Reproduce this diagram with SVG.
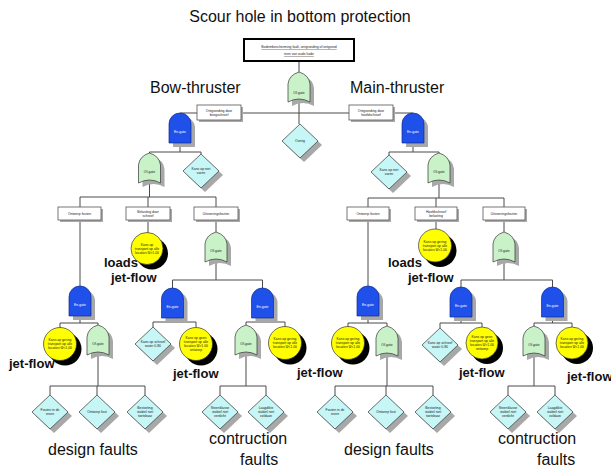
<svg xmlns="http://www.w3.org/2000/svg" xmlns:xlink="http://www.w3.org/1999/xlink" width="611" height="470" viewBox="0 0 611 470">
<style>
.ln{stroke:#4a4a4a;stroke-width:1;fill:none}
.or{fill:#c9f2c9;stroke:#333;stroke-width:0.7}
.and{fill:#1f50ea;stroke:#0d2c8c;stroke-width:0.7}
.dia{fill:#c6f6f6;stroke:#333;stroke-width:0.7}
.bas{fill:#ffff00;stroke:#333;stroke-width:0.7}
.sh{fill:#a8a8a8}
.shb{fill:#000}
.box{fill:#fff;stroke:#555;stroke-width:0.8}
.tiny{font-family:"Liberation Sans",Arial,sans-serif;font-size:3.4px;text-anchor:middle;fill:#222}
.tw{fill:#fff}
.big{font-family:"Liberation Sans",Arial,sans-serif;font-size:16px;fill:#111}
.lbl{font-family:"Liberation Sans",Arial,sans-serif;font-size:13px;font-weight:bold;fill:#111}
</style>
<defs>
<path id="orp" d="M-11,30 L-11,12 Q-10,3 0,0 Q10,3 11,12 L11,30 Q0,24 -11,30 Z"/>
<path id="andp" d="M-11,30 L-11,11 A11,11 0 0 1 11,11 L11,30 Z"/>
<path id="diap" d="M0,-17 L18,0 L0,17 L-18,0 Z"/>
</defs>
<rect width="611" height="470" fill="#fff"/>
<text class="big" x="300" y="22" text-anchor="middle">Scour hole in bottom protection</text>
<text class="big" x="150" y="93">Bow-thruster</text>
<text class="big" x="350" y="93">Main-thruster</text>

<g id="connectors" class="ln">
<path d="M299,61V72 M299,96V124 M180,113H413"/>
<path d="M180,141V152 M149.5,152H201 M149.5,152V154 M201,152V154"/>
<path d="M149.5,180V197 M80,197H216 M80,197V207 M148,197V207 M216,197V207"/>
<path d="M80,220V286 M148,220V233 M216,220V232"/>
<path d="M216,258V280 M172.5,280H262.5 M172.5,280V288 M262.5,280V288"/>
<path d="M80,314V323 M60,323H98 M60,323V328 M98,323V325"/>
<path d="M98,351V386 M50,386H145 M50,386V395 M97,386V395 M145,386V395"/>
<path d="M172.5,316V322 M153,322H196 M153,322V327 M196,322V327"/>
<path d="M262.5,316V322 M246,322H285 M246,322V325 M285,322V327"/>
<path d="M246,351V386 M220,386H266 M220,386V395 M266,386V395"/>
<path d="M413,141V152 M389,152H439 M389,152V155 M439,152V153"/>
<path d="M439,179V198 M368,198H504 M368,198V207 M436,198V207 M504,198V207"/>
<path d="M368,220V286 M436,220V229 M504,220V232"/>
<path d="M504,258V280 M461,280H552.5 M461,280V287 M552.5,280V287"/>
<path d="M368,314V323 M348,323H387 M348,323V327 M387,323V326"/>
<path d="M387,352V386 M335,386H433 M335,386V395 M386,386V395 M433,386V395"/>
<path d="M461,315V323 M440,323H482 M440,323V328 M482,323V327"/>
<path d="M552.5,315V323 M534,323H572 M534,323V326 M572,323V327"/>
<path d="M534,352V386 M508,386H555 M508,386V395 M555,386V395"/>
</g>

<g id="top-event">
<rect x="244" y="39" width="110" height="22" fill="#fff" stroke="#000" stroke-width="2"/>
<text class="tiny" x="299" y="48" text-decoration="underline">Bodembescherming faalt, ontgronding of ontgrond</text>
<text class="tiny" x="299" y="55" text-decoration="underline">teen van oude kade</text>
</g>
<g id="or-top" transform="translate(299,72)"><use xlink:href="#orp" class="sh" x="4" y="4"/><use xlink:href="#orp" class="or"/><text class="tiny" y="22">Of-gate</text></g>
<g id="overig" transform="translate(300,141)"><use xlink:href="#diap" class="sh" x="4" y="4"/><use xlink:href="#diap" class="dia"/><text class="tiny" y="1">Overig</text></g>
<g id="lbl-bow"><rect x="199" y="107" width="44" height="15" class="sh"/><rect x="197" y="105" width="44" height="15" class="box"/><text class="tiny" x="219" y="111.5">Ontgronding door</text><text class="tiny" x="219" y="116">boegschroef</text></g>
<g id="lbl-main"><rect x="351" y="107" width="44" height="15" class="sh"/><rect x="349" y="105" width="44" height="15" class="box"/><text class="tiny" x="371" y="111.5">Ontgronding door</text><text class="tiny" x="371" y="116">hoofdschroef</text></g>

<!-- Bow-thruster subtree -->
<g id="and-bow" transform="translate(180,113)"><use xlink:href="#andp" class="sh" x="4" y="4"/><use xlink:href="#andp" class="and"/><text class="tiny tw" y="20">En-gate</text></g>
<g id="or-bow" transform="translate(149.5,153)"><use xlink:href="#orp" class="sh" x="4" y="4"/><use xlink:href="#orp" class="or"/><text class="tiny" y="20">Of-gate</text></g>
<g id="d-bow" transform="translate(201,171)"><use xlink:href="#diap" class="sh" x="4" y="4"/><use xlink:href="#diap" class="dia"/><text class="tiny" y="-1">Kans op niet</text><text class="tiny" y="3">varen</text></g>
<g id="r-bow1"><rect x="60" y="209" width="43" height="13" class="sh"/><rect x="58" y="207" width="43" height="13" class="box"/><text class="tiny" x="79.5" y="214.5">Ontwerp fouten</text></g>
<g id="r-bow2"><rect x="128" y="209" width="44" height="13" class="sh"/><rect x="126" y="207" width="44" height="13" class="box"/><text class="tiny" x="148" y="212.5">Belasting door</text><text class="tiny" x="148" y="217">schroef</text></g>
<g id="r-bow3"><rect x="196" y="209" width="44" height="13" class="sh"/><rect x="194" y="207" width="44" height="13" class="box"/><text class="tiny" x="216" y="214.5">Uitvoeringsfouten</text></g>
<g id="y-bow" transform="translate(147,248.5)"><circle cx="5" cy="5" r="16" class="shb"/><circle r="16" class="bas"/><text class="tiny" y="-3">Kans op</text><text class="tiny" y="1">transport op alle</text><text class="tiny" y="5">locaties Ψ&gt;1.00</text></g>
<g id="or-bow3" transform="translate(216,232)"><use xlink:href="#orp" class="sh" x="4" y="4"/><use xlink:href="#orp" class="or"/><text class="tiny" y="20">Of-gate</text></g>
<g id="and-bow1" transform="translate(80,286)"><use xlink:href="#andp" class="sh" x="4" y="4"/><use xlink:href="#andp" class="and"/><text class="tiny tw" y="20">En-gate</text></g>
<g id="y-bow1" transform="translate(60,344)"><circle cx="5" cy="5" r="16.5" class="shb"/><circle r="16.5" class="bas"/><text class="tiny" y="-3">Kans op gering</text><text class="tiny" y="1">transport op alle</text><text class="tiny" y="5">locaties Ψ&lt;1.00</text></g>
<g id="or-bow1" transform="translate(98,325)"><use xlink:href="#orp" class="sh" x="4" y="4"/><use xlink:href="#orp" class="or"/><text class="tiny" y="20">Of-gate</text></g>
<g id="d-bow1a" transform="translate(50,412)"><use xlink:href="#diap" class="sh" x="4" y="4"/><use xlink:href="#diap" class="dia"/><text class="tiny" y="-1">Fouten in de</text><text class="tiny" y="3">eisen</text></g>
<g id="d-bow1b" transform="translate(97,412)"><use xlink:href="#diap" class="sh" x="4" y="4"/><use xlink:href="#diap" class="dia"/><text class="tiny" y="1">Ontwerp fout</text></g>
<g id="d-bow1c" transform="translate(145,412)"><use xlink:href="#diap" class="sh" x="4" y="4"/><use xlink:href="#diap" class="dia"/><text class="tiny" y="-3">Bestorting</text><text class="tiny" y="1">stabiel niet</text><text class="tiny" y="5">toetsbaar</text></g>
<g id="and-bow2" transform="translate(172.5,288)"><use xlink:href="#andp" class="sh" x="4" y="4"/><use xlink:href="#andp" class="and"/><text class="tiny tw" y="20">En-gate</text></g>
<g id="and-bow3" transform="translate(262.5,288)"><use xlink:href="#andp" class="sh" x="4" y="4"/><use xlink:href="#andp" class="and"/><text class="tiny tw" y="20">En-gate</text></g>
<g id="d-bow2" transform="translate(153,344)"><use xlink:href="#diap" class="sh" x="4" y="4"/><use xlink:href="#diap" class="dia"/><text class="tiny" y="-1">Kans op schroef</text><text class="tiny" y="3">water 0.80</text></g>
<g id="y-bow2" transform="translate(196,344)"><circle cx="5" cy="5" r="16.5" class="shb"/><circle r="16.5" class="bas"/><text class="tiny" y="-5">Kans op geen</text><text class="tiny" y="-1">transport op alle</text><text class="tiny" y="3">locaties Ψ&gt;1.00</text><text class="tiny" y="7">ontwerp</text></g>
<g id="or-bow4" transform="translate(246,325)"><use xlink:href="#orp" class="sh" x="4" y="4"/><use xlink:href="#orp" class="or"/><text class="tiny" y="20">Of-gate</text></g>
<g id="y-bow3" transform="translate(285,343)"><circle cx="5" cy="5" r="16.5" class="shb"/><circle r="16.5" class="bas"/><text class="tiny" y="-3">Kans op gering</text><text class="tiny" y="1">transport op alle</text><text class="tiny" y="5">locaties Ψ&lt;1.00</text></g>
<g id="d-bow4a" transform="translate(220,412)"><use xlink:href="#diap" class="sh" x="4" y="4"/><use xlink:href="#diap" class="dia"/><text class="tiny" y="-3">Steenklasse</text><text class="tiny" y="1">stabiel niet</text><text class="tiny" y="5">verdicht</text></g>
<g id="d-bow4b" transform="translate(266,412)"><use xlink:href="#diap" class="sh" x="4" y="4"/><use xlink:href="#diap" class="dia"/><text class="tiny" y="-3">Laagdikte</text><text class="tiny" y="1">stabiel niet</text><text class="tiny" y="5">voldaan</text></g>

<!-- Main-thruster subtree -->
<g id="and-main" transform="translate(413,113)"><use xlink:href="#andp" class="sh" x="4" y="4"/><use xlink:href="#andp" class="and"/><text class="tiny tw" y="20">En-gate</text></g>
<g id="d-main" transform="translate(389,172)"><use xlink:href="#diap" class="sh" x="4" y="4"/><use xlink:href="#diap" class="dia"/><text class="tiny" y="-1">Kans op niet</text><text class="tiny" y="3">varen</text></g>
<g id="or-main" transform="translate(439,153)"><use xlink:href="#orp" class="sh" x="4" y="4"/><use xlink:href="#orp" class="or"/><text class="tiny" y="20">Of-gate</text></g>
<g id="r-main1"><rect x="349" y="209" width="42" height="13" class="sh"/><rect x="347" y="207" width="42" height="13" class="box"/><text class="tiny" x="368" y="214.5">Ontwerp fouten</text></g>
<g id="r-main2"><rect x="417" y="209" width="42" height="13" class="sh"/><rect x="415" y="207" width="42" height="13" class="box"/><text class="tiny" x="436" y="212.5">Hoofdschroef</text><text class="tiny" x="436" y="217">belasting</text></g>
<g id="r-main3"><rect x="485" y="209" width="42" height="13" class="sh"/><rect x="483" y="207" width="42" height="13" class="box"/><text class="tiny" x="504" y="214.5">Uitvoeringsfouten</text></g>
<g id="y-main" transform="translate(435,245.5)"><circle cx="5" cy="5" r="16.5" class="shb"/><circle r="16.5" class="bas"/><text class="tiny" y="-3">Kans op gering</text><text class="tiny" y="1">transport op alle</text><text class="tiny" y="5">locaties Ψ&lt;1.00</text></g>
<g id="or-main3" transform="translate(504,232)"><use xlink:href="#orp" class="sh" x="4" y="4"/><use xlink:href="#orp" class="or"/><text class="tiny" y="20">Of-gate</text></g>
<g id="and-main1" transform="translate(368,286)"><use xlink:href="#andp" class="sh" x="4" y="4"/><use xlink:href="#andp" class="and"/><text class="tiny tw" y="20">En-gate</text></g>
<g id="y-main1" transform="translate(348,343)"><circle cx="5" cy="5" r="16.5" class="shb"/><circle r="16.5" class="bas"/><text class="tiny" y="-3">Kans op gering</text><text class="tiny" y="1">transport op alle</text><text class="tiny" y="5">locaties Ψ&lt;1.00</text></g>
<g id="or-main1" transform="translate(387,326)"><use xlink:href="#orp" class="sh" x="4" y="4"/><use xlink:href="#orp" class="or"/><text class="tiny" y="20">Of-gate</text></g>
<g id="d-main1a" transform="translate(335,412)"><use xlink:href="#diap" class="sh" x="4" y="4"/><use xlink:href="#diap" class="dia"/><text class="tiny" y="-1">Fouten in de</text><text class="tiny" y="3">eisen</text></g>
<g id="d-main1b" transform="translate(386,412)"><use xlink:href="#diap" class="sh" x="4" y="4"/><use xlink:href="#diap" class="dia"/><text class="tiny" y="1">Ontwerp fout</text></g>
<g id="d-main1c" transform="translate(433,412)"><use xlink:href="#diap" class="sh" x="4" y="4"/><use xlink:href="#diap" class="dia"/><text class="tiny" y="-3">Bestorting</text><text class="tiny" y="1">stabiel niet</text><text class="tiny" y="5">toetsbaar</text></g>
<g id="and-main2" transform="translate(461,287)"><use xlink:href="#andp" class="sh" x="4" y="4"/><use xlink:href="#andp" class="and"/><text class="tiny tw" y="20">En-gate</text></g>
<g id="and-main3" transform="translate(552.5,287)"><use xlink:href="#andp" class="sh" x="4" y="4"/><use xlink:href="#andp" class="and"/><text class="tiny tw" y="20">En-gate</text></g>
<g id="d-main2" transform="translate(440,345)"><use xlink:href="#diap" class="sh" x="4" y="4"/><use xlink:href="#diap" class="dia"/><text class="tiny" y="-1">Kans op schroef</text><text class="tiny" y="3">water 0.80</text></g>
<g id="y-main2" transform="translate(482,343)"><circle cx="5" cy="5" r="16" class="shb"/><circle r="16" class="bas"/><text class="tiny" y="-5">Kans op geen</text><text class="tiny" y="-1">transport op alle</text><text class="tiny" y="3">locaties Ψ&gt;1.00</text><text class="tiny" y="7">ontwerp</text></g>
<g id="or-main4" transform="translate(534,326)"><use xlink:href="#orp" class="sh" x="4" y="4"/><use xlink:href="#orp" class="or"/><text class="tiny" y="20">Of-gate</text></g>
<g id="y-main3" transform="translate(572,343)"><circle cx="5" cy="5" r="16" class="shb"/><circle r="16" class="bas"/><text class="tiny" y="-3">Kans op gering</text><text class="tiny" y="1">transport op alle</text><text class="tiny" y="5">locaties Ψ&lt;1.00</text></g>
<g id="d-main4a" transform="translate(508,412)"><use xlink:href="#diap" class="sh" x="4" y="4"/><use xlink:href="#diap" class="dia"/><text class="tiny" y="-3">Steenklasse</text><text class="tiny" y="1">stabiel niet</text><text class="tiny" y="5">verdicht</text></g>
<g id="d-main4b" transform="translate(555,412)"><use xlink:href="#diap" class="sh" x="4" y="4"/><use xlink:href="#diap" class="dia"/><text class="tiny" y="-3">Laagdikte</text><text class="tiny" y="1">stabiel niet</text><text class="tiny" y="5">voldaan</text></g>

<g id="annotations">
<text class="lbl" x="104" y="267">loads</text>
<text class="lbl" x="111" y="282">jet-flow</text>
<text class="lbl" x="388" y="267">loads</text>
<text class="lbl" x="408" y="282">jet-flow</text>
<text class="lbl" x="9" y="368">jet-flow</text>
<text class="lbl" x="173" y="378">jet-flow</text>
<text class="lbl" x="297" y="377">jet-flow</text>
<text class="lbl" x="459" y="377">jet-flow</text>
<text class="lbl" x="567" y="381">jet-flow</text>
<text class="big" x="48" y="455">design faults</text>
<text class="big" x="344" y="455">design faults</text>
<text class="big" x="209" y="444">contruction</text>
<text class="big" x="240" y="465">faults</text>
<text class="big" x="498" y="444">contruction</text>
<text class="big" x="537" y="465">faults</text>
</g>
</svg>
